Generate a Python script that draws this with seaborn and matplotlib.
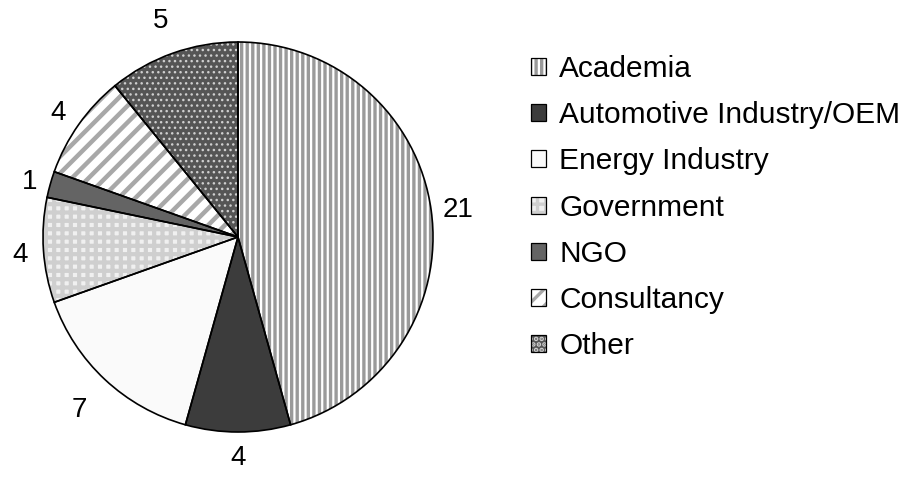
import matplotlib
matplotlib.use("Agg")
import numpy as np
import matplotlib.pyplot as plt
import seaborn as sns
from matplotlib.patches import Patch
from matplotlib.legend_handler import HandlerTuple

sns.set_theme(style="white")
plt.rcParams['font.family'] = ['Liberation Sans', 'DejaVu Sans']
plt.rcParams['text.color'] = 'black'
plt.rcParams['hatch.linewidth'] = 2.4

categories = ["Academia", "Automotive Industry/OEM", "Energy Industry",
              "Government", "NGO", "Consultancy", "Other"]
values = [21, 4, 7, 4, 1, 4, 5]
labels = [str(v) for v in values]
label_dist = [1.14, 1.12, 1.19, 1.12, 1.11, 1.13, 1.19]

facecolors = ["#ffffff", "#3c3c3c", "#fafafa", "#f0f0f0", "#646464", "#ffffff", "#555555"]
hatchcolors = ["#9a9a9a", "#3c3c3c", "#fafafa", "#cfcfcf", "#646464", "#a8a8a8", "#cfcfcf"]
hatches = ["|||", None, None, "++", None, "//", "..."]
hatch_lw = [2.4, 1, 1, 3.0, 1, 3.2, 1.0]

W, H = 913, 480
fig = plt.figure(figsize=(W / 100, H / 100), dpi=100)
cx, cy, r = 238, 237, 195
ax = fig.add_axes([(cx - r) / W, (H - cy - r) / H, 2 * r / W, 2 * r / H])

# fill layer with hatches
wedges, _ = ax.pie(values, startangle=90, counterclock=False,
                   colors=facecolors, wedgeprops=dict(linewidth=0))
for w, hc, h, lw in zip(wedges, hatchcolors, hatches, hatch_lw):
    w.set_edgecolor(hc)
    if h:
        w.set_hatch(h)
        try:
            w.set_hatch_linewidth(lw)
        except Exception:
            pass

# outline layer
wedges2, _ = ax.pie(values, startangle=90, counterclock=False,
                    wedgeprops=dict(fill=False, edgecolor="black", linewidth=1.2))

# value labels centered along mid-angle
for w, lab, d in zip(wedges2, labels, label_dist):
    ang = np.deg2rad((w.theta1 + w.theta2) / 2)
    ax.text(d * np.cos(ang), d * np.sin(ang), lab, ha="center", va="center_baseline",
            fontsize=20, color="black")

ax.set_xlim(-1, 1)
ax.set_ylim(-1, 1)
ax.set_aspect("equal")

handles = []
for fc, hc, h, lw in zip(facecolors, hatchcolors, hatches, hatch_lw):
    p = Patch(facecolor=fc, edgecolor=hc, hatch=h, linewidth=0)
    if h:
        try:
            p.set_hatch_linewidth(lw * 0.8)
        except Exception:
            pass
    o = Patch(fill=False, edgecolor="black", linewidth=0.9)
    handles.append((p, o))

leg = fig.legend(handles, categories, loc="upper left",
                 handler_map={tuple: HandlerTuple(ndivide=1, pad=0)},
                 bbox_to_anchor=(531 / W, 1 - 55 / H),
                 frameon=False, fontsize=21.5, handlelength=0.5, handleheight=0.5,
                 handletextpad=0.45, labelspacing=0.61, borderpad=0, borderaxespad=0)
for t in leg.get_texts():
    t.set_color("black")

fig.savefig("out.png", dpi=100, facecolor="white")
